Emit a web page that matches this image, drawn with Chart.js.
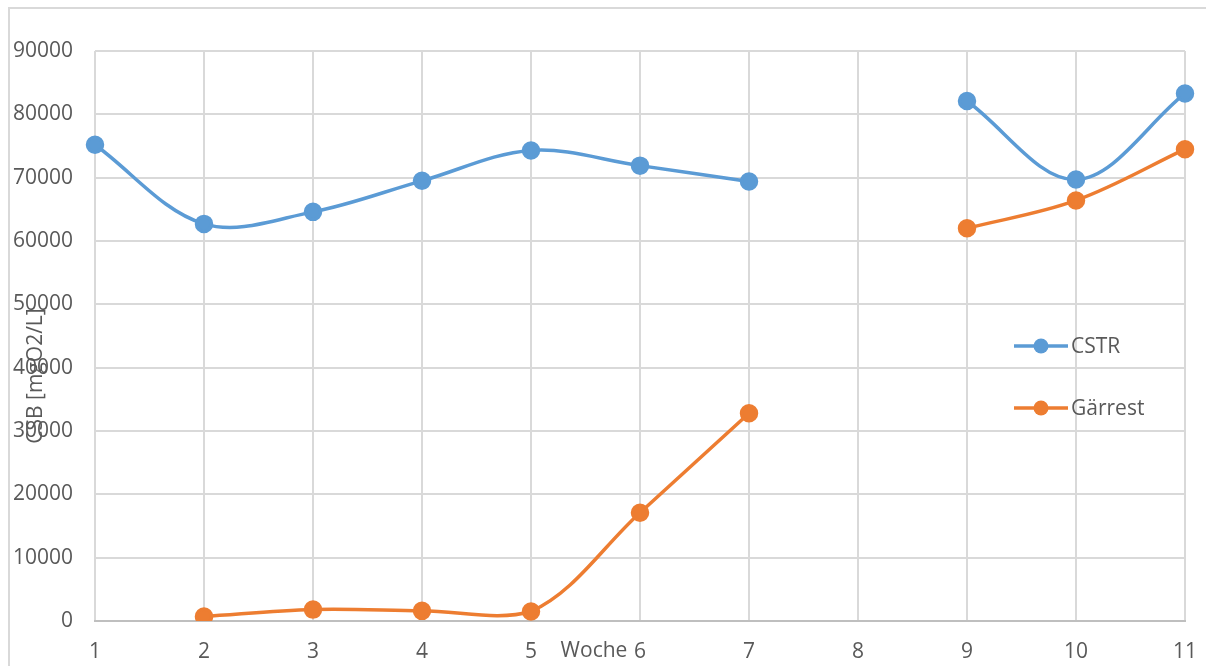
<!DOCTYPE html>
<html>
<head>
<meta charset="utf-8">
<script src="https://cdn.jsdelivr.net/npm/chart.js@4/dist/chart.umd.min.js"></script>
<style>
  html, body { margin: 0; padding: 0; background: #fff; }
  #wrap { position: relative; width: 1206px; height: 666px; }
</style>
</head>
<body>
<div id="wrap"><canvas id="c" width="1206" height="666"></canvas></div>
<script>
const weeks = ['1', '2', '3', '4', '5', '6', '7', '8', '9', '10', '11'];
const cstr = [75200, 62700, 64600, 69500, 74300, 71900, 69400, null, 82100, 69700, 83300];
const gaerrest = [null, 700, 1800, 1600, 1500, 17100, 32800, null, 62000, 66400, 74500];
const seriesNames = ['CSTR', 'Gärrest'];
const seriesColors = ['#5B9BD5', '#ED7D31'];
const yTitle = 'CSB [mgO2/L]';
const xTitle = 'Woche';

const FONT = '"Open Sans", "Noto Sans", sans-serif';
const FSIZE = 21;
const TEXT = '#595959';
const GRID = '#d9d9d9';

// Outer frame, overlapping axis titles and the in-plot legend
const decor = {
  id: 'decor',
  beforeDraw(chart) {
    const ctx = chart.ctx;
    ctx.save();
    ctx.strokeStyle = GRID;
    ctx.lineWidth = 2;
    ctx.beginPath();
    ctx.moveTo(9, 666);
    ctx.lineTo(9, 8);
    ctx.lineTo(1206, 8);
    ctx.stroke();
    ctx.restore();
  },
  afterDraw(chart) {
    const ctx = chart.ctx;
    ctx.save();
    ctx.fillStyle = TEXT;
    ctx.font = FSIZE + 'px ' + FONT;
    // y title, rotated
    ctx.save();
    ctx.translate(36, 376);
    ctx.rotate(-Math.PI / 2);
    ctx.textAlign = 'center';
    ctx.textBaseline = 'middle';
    ctx.fillText(yTitle, 0, 0);
    ctx.restore();
    // x title, sharing the tick row
    ctx.textAlign = 'center';
    ctx.textBaseline = 'middle';
    ctx.fillText(xTitle, 594, 651);
    // legend
    const rows = [346, 408];
    rows.forEach((y, i) => {
      const x0 = 1014, x1 = 1068;
      ctx.strokeStyle = seriesColors[i];
      ctx.lineWidth = 3.5;
      ctx.beginPath();
      ctx.moveTo(x0, y);
      ctx.lineTo(x1, y);
      ctx.stroke();
      ctx.fillStyle = seriesColors[i];
      ctx.beginPath();
      ctx.arc((x0 + x1) / 2, y, 7.5, 0, Math.PI * 2);
      ctx.fill();
      ctx.fillStyle = TEXT;
      ctx.textAlign = 'left';
      ctx.fillText(seriesNames[i], 1071, y + 1);
    });
    ctx.restore();
  }
};

new Chart(document.getElementById('c'), {
  type: 'line',
  data: {
    labels: weeks,
    datasets: [
      {
        label: seriesNames[0], data: cstr,
        borderColor: seriesColors[0], backgroundColor: seriesColors[0],
        borderWidth: 3.5, pointRadius: 7.5, pointHoverRadius: 7.5,
        tension: 0.35, spanGaps: false
      },
      {
        label: seriesNames[1], data: gaerrest,
        borderColor: seriesColors[1], backgroundColor: seriesColors[1],
        borderWidth: 3.5, pointRadius: 7.5, pointHoverRadius: 7.5,
        tension: 0.35, spanGaps: false
      }
    ]
  },
  options: {
    responsive: false,
    animation: false,
    events: [],
    layout: { padding: { left: 0, right: 21, top: 51, bottom: 0 } },
    plugins: { legend: { display: false }, tooltip: { enabled: false } },
    scales: {
      x: {
        offset: false,
        grid: { color: GRID, lineWidth: 2, drawTicks: false },
        border: { color: '#bfbfbf', width: 2 },
        ticks: { color: TEXT, font: { family: FONT, size: FSIZE }, padding: 18, maxRotation: 0, autoSkip: false },
        afterFit(s) { s.height = 45; s.paddingLeft = 0; s.paddingRight = 0; }
      },
      y: {
        min: 0, max: 90000,
        grid: { color: GRID, lineWidth: 2, drawTicks: false },
        border: { display: false },
        ticks: {
          stepSize: 10000, color: TEXT, font: { family: FONT, size: FSIZE }, padding: 22,
          callback: v => String(v)
        },
        afterFit(s) { s.width = 95; s.paddingTop = 0; s.paddingBottom = 0; }
      }
    }
  },
  plugins: [decor]
});
</script>
</body>
</html>
